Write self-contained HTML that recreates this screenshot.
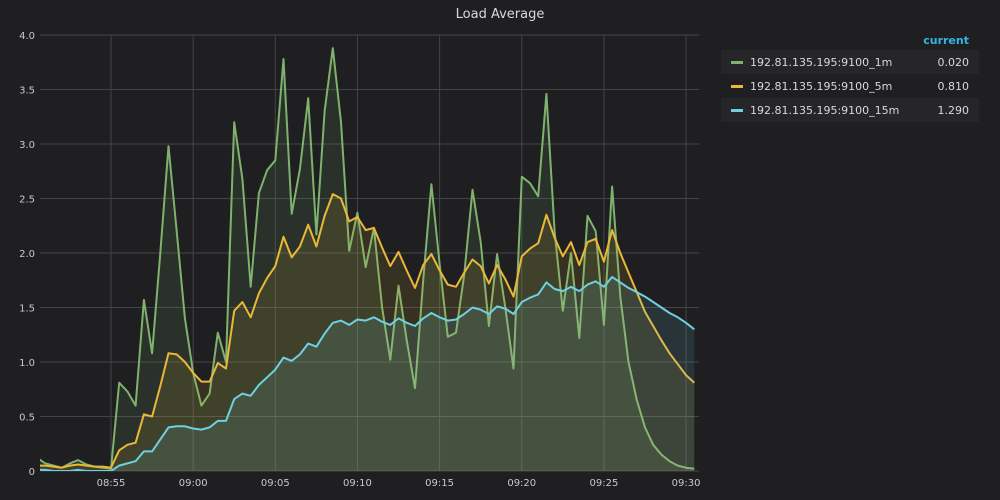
<!DOCTYPE html>
<html><head><meta charset="utf-8"><style>
body{margin:0;background:#1f1f21;width:1000px;height:500px;overflow:hidden;font-family:"DejaVu Sans","Liberation Sans",sans-serif}
svg{position:absolute;left:0;top:0}
</style></head><body>
<svg id="c" width="1000" height="500"></svg>
<script>
const tickLabelsY=["0","0.5","1.0","1.5","2.0","2.5","3.0","3.5","4.0"];
const tickValuesY=[0,0.5,1,1.5,2,2.5,3,3.5,4];
const tickLabelsX=["08:55","09:00","09:05","09:10","09:15","09:20","09:25","09:30"];
const tickMinutesX=[5,10,15,20,25,30,35,40];
const seriesNames=["192.81.135.195:9100_1m","192.81.135.195:9100_5m","192.81.135.195:9100_15m"];
const currentValues=["0.020","0.810","1.290"];
const startMinute=0.5; // 08:50:30
const stepMinute=0.5;
const load1m=[0.12,0.07,0.05,0.03,0.07,0.1,0.06,0.04,0.03,
0.02,0.81,0.73,0.6,1.57,1.08,2.0,2.98,2.2,1.4,0.9,0.6,0.71,1.27,1.0,3.2,2.68,1.69,2.55,2.76,2.85,3.78,2.36,2.77,3.42,2.17,3.3,3.88,3.2,2.02,2.37,1.87,2.23,1.5,1.02,1.7,1.2,0.76,1.75,2.63,1.9,1.23,1.27,1.8,2.58,2.1,1.33,1.99,1.5,0.94,2.7,2.64,2.52,3.46,2.2,1.47,2.0,1.22,2.34,2.2,1.34,2.61,1.6,1.0,0.65,0.4,0.24,0.15,0.09,0.05,0.03,0.02];
const load5m=[0.05,0.05,0.04,0.03,0.05,0.06,0.05,0.04,0.04,
0.03,0.19,0.24,0.26,0.52,0.5,0.78,1.08,1.07,1.0,0.9,0.82,0.82,0.99,0.94,1.47,1.55,1.41,1.63,1.77,1.88,2.15,1.96,2.06,2.26,2.06,2.34,2.54,2.5,2.29,2.33,2.21,2.23,2.05,1.88,2.01,1.84,1.68,1.89,1.99,1.84,1.71,1.69,1.82,1.94,1.88,1.72,1.89,1.76,1.6,1.97,2.04,2.09,2.35,2.14,1.97,2.1,1.89,2.1,2.13,1.92,2.21,2.0,1.82,1.64,1.46,1.33,1.2,1.08,0.98,0.88,0.81];
const load15m=[0.01,0.01,0.0,0.0,0.0,0.01,0.0,0.0,0.0,
0.0,0.05,0.07,0.09,0.18,0.18,0.29,0.4,0.41,0.41,0.39,0.38,0.4,0.46,0.46,0.66,0.71,0.69,0.79,0.86,0.93,1.04,1.01,1.07,1.17,1.14,1.26,1.36,1.38,1.34,1.39,1.38,1.41,1.37,1.34,1.4,1.36,1.33,1.4,1.45,1.41,1.38,1.39,1.44,1.5,1.48,1.44,1.51,1.49,1.44,1.55,1.59,1.62,1.73,1.67,1.65,1.69,1.65,1.71,1.74,1.69,1.78,1.73,1.68,1.64,1.6,1.55,1.5,1.45,1.41,1.36,1.3];
const colors=["#7eb26d","#eab839","#6ed0e0"];

const NS="http://www.w3.org/2000/svg";
const svg=document.getElementById('c');
const X0=40,X1=696,Y0=471,Y1=35;
const xs=m=>111+(m-5)*16.43;
const ys=v=>Y0-(v/4)*(Y0-Y1);
function mk(t,a,p){const e=document.createElementNS(NS,t);for(const k in a)e.setAttribute(k,a[k]);(p||svg).appendChild(e);return e;}

const title=mk('text',{x:500,y:18,'text-anchor':'middle',fill:'#d8d9da','font-size':13});
title.textContent='Load Average';



const defs=mk('defs',{});
const cp=mk('clipPath',{id:'cp'},defs);
mk('rect',{x:X0,y:0,width:X1-X0,height:Y0},cp);

tickValuesY.forEach((v,i)=>{
  const l=mk('line',{x1:X0,x2:699,y1:ys(v),y2:ys(v),stroke:'#444447','stroke-width':1});
  
  
  const t=mk('text',{x:35,y:ys(v)+4,'text-anchor':'end',fill:'#c8c8c8','font-size':10});
  t.textContent=tickLabelsY[i];
  
  
});
tickMinutesX.forEach((m,i)=>{
  const x=xs(m);
  const l=mk('line',{x1:x,x2:x,y1:Y1,y2:Y0,stroke:'#444447','stroke-width':1});
  
  
  const t=mk('text',{x:x,y:486,'text-anchor':'middle',fill:'#c8c8c8','font-size':10});
  t.textContent=tickLabelsX[i];
  
  
});

const g=mk('g',{'clip-path':'url(#cp)'});
[load1m,load5m,load15m].forEach((arr,si)=>{
  const pts=arr.map((v,i)=>[xs(startMinute+i*stepMinute),ys(v)]);
  const line=pts.map((p,i)=>(i?'L':'M')+p[0].toFixed(1)+','+p[1].toFixed(1)).join('');
  const last=pts[pts.length-1],first=pts[0];
  const a=mk('path',{d:line+`L${last[0]},${Y0}L${first[0]},${Y0}Z`,fill:colors[si],'fill-opacity':0.12,stroke:'none'},g);
  
  
  const l=mk('path',{d:line,fill:'none',stroke:colors[si],'stroke-width':2,'stroke-linejoin':'round'},g);
  
  
});

const hdr=mk('text',{x:969,y:44,'text-anchor':'end',fill:'#33b5e5','font-size':11,'font-weight':'bold'});
hdr.textContent='current';


seriesNames.forEach((n,i)=>{
  const y=50+i*24;
  const row=mk('g',{});
  
  
  if(i!==1)mk('rect',{x:721,y:y,width:258,height:24,fill:'#262628'},row);
  mk('rect',{x:731,y:y+11,width:12,height:3,fill:colors[i]},row);
  const t=mk('text',{x:750,y:y+16,fill:'#d8d9da','font-size':11},row);
  t.textContent=n;
  const v=mk('text',{x:969,y:y+16,'text-anchor':'end',fill:'#d8d9da','font-size':11},row);
  v.textContent=currentValues[i];
});
</script>
</body></html>
